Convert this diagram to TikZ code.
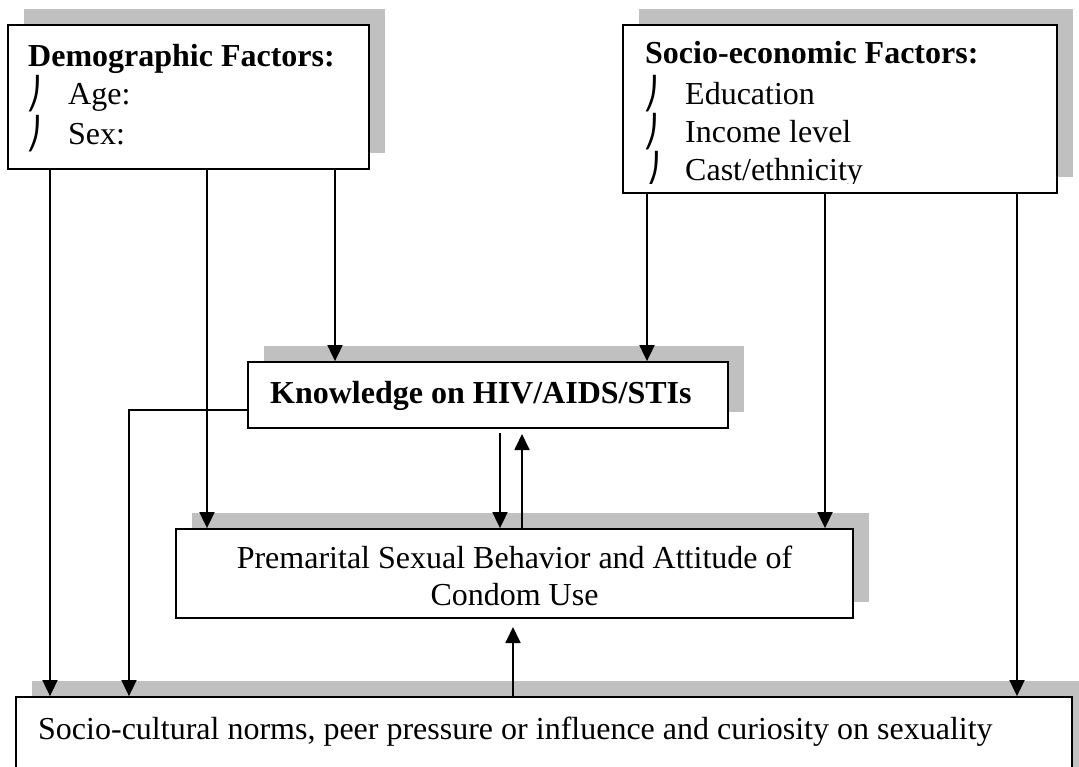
\documentclass[tikz,border=0pt]{standalone}
\usepackage{fontspec}
\setmainfont{Liberation Serif}
\newfontfamily\bulletfont{DejaVu Sans}
\usetikzlibrary{arrows.meta,shadows}
\definecolor{shadegray}{RGB}{192,192,192}
\tikzset{
  box/.style={draw=black, line width=1.8pt, fill=white, inner sep=0pt,
    drop shadow={shadow xshift=16pt, shadow yshift=16pt, fill=shadegray, opacity=1}},
  txt/.style={inner sep=0pt, anchor=base west, font=\fontsize{32}{37}\selectfont},
  btxt/.style={txt, font=\fontsize{32}{37}\selectfont\bfseries},
  bul/.style={inner sep=0pt, anchor=base west, font=\fontsize{31}{37}\bulletfont},
  arr/.style={line width=1.8pt, -{Triangle[width=15pt,length=16pt]}},
}
\begin{document}
\begin{tikzpicture}[x=1pt,y=-1pt]
\clip (0,0) rectangle (1079,766);
\useasboundingbox (0,0) rectangle (1079,766);

% boxes
\node[box, minimum width=361pt, minimum height=144pt] (D) at (188.5,97) {};
\node[box, minimum width=434pt, minimum height=168pt] (S) at (840,109) {};
\node[box, minimum width=480pt, minimum height=66pt] (K) at (488,395) {};
\node[box, minimum width=677pt, minimum height=89pt] (P) at (514.5,573.5) {};
\node[box, minimum width=1056pt, minimum height=110pt] (C) at (544,752) {};

% texts
\node[btxt] (Dt) at (28,66) {Demographic Factors:};
\node[bul] (Db1) at (26,104) {⎠};
\node[txt] (Da) at (68,104) {Age:};
\node[bul] (Db2) at (26,144) {⎠};
\node[txt] (Ds) at (68,144) {Sex:};

\begin{scope}
\clip (623,25) rectangle (1057,183);
\node[btxt] (St) at (645,63) {Socio-economic Factors:};
\node[bul] (Sb1) at (643,104) {⎠};
\node[txt] (Se) at (685,104) {Education};
\node[bul] (Sb2) at (643,142) {⎠};
\node[txt] (Si) at (685,142) {Income level};
\node[bul] (Sb3) at (645,180) {⎠};
\node[txt] (Sc) at (685,180) {Cast/ethnicity};
\end{scope}

\node[btxt] (Kt) at (270,403) {Knowledge on HIV/AIDS/STIs};
\node[txt, anchor=center, align=center] (Pt) at (514.5,576) {Premarital Sexual Behavior and Attitude of\\Condom Use};
\node[txt] (Ct) at (38,739) {Socio-cultural norms, peer pressure or influence and curiosity on sexuality};

% connector columns
\coordinate (x50) at (50,0);
\coordinate (x129) at (129,0);
\coordinate (x207) at (207,0);
\coordinate (x335) at (335,0);
\coordinate (x500) at (500,0);
\coordinate (x513) at (513,0);
\coordinate (x522) at (522,0);
\coordinate (x647) at (647,0);
\coordinate (x825) at (825,0);
\coordinate (x1017) at (1017,0);
\coordinate (y410) at (0,410);
\coordinate (kdown) at (0,433);
\coordinate (kup) at (0,434);
\coordinate (pup) at (0,627);

% connectors
\draw[arr] (D.south -| x50) -- (C.north -| x50);
\draw[arr] (D.south -| x207) -- (P.north -| x207);
\draw[arr] (D.south -| x335) -- (K.north -| x335);
\draw[arr] (S.south -| x647) -- (K.north -| x647);
\draw[arr] (S.south -| x825) -- (P.north -| x825);
\draw[arr] (S.south -| x1017) -- (C.north -| x1017);
\draw[arr] (K.west |- y410) -- (x129 |- y410) -- (C.north -| x129);
\draw[arr] (x500 |- kdown) -- (P.north -| x500);
\draw[arr] (P.north -| x522) -- (x522 |- kup);
\draw[arr] (C.north -| x513) -- (x513 |- pup);
\end{tikzpicture}
\end{document}
